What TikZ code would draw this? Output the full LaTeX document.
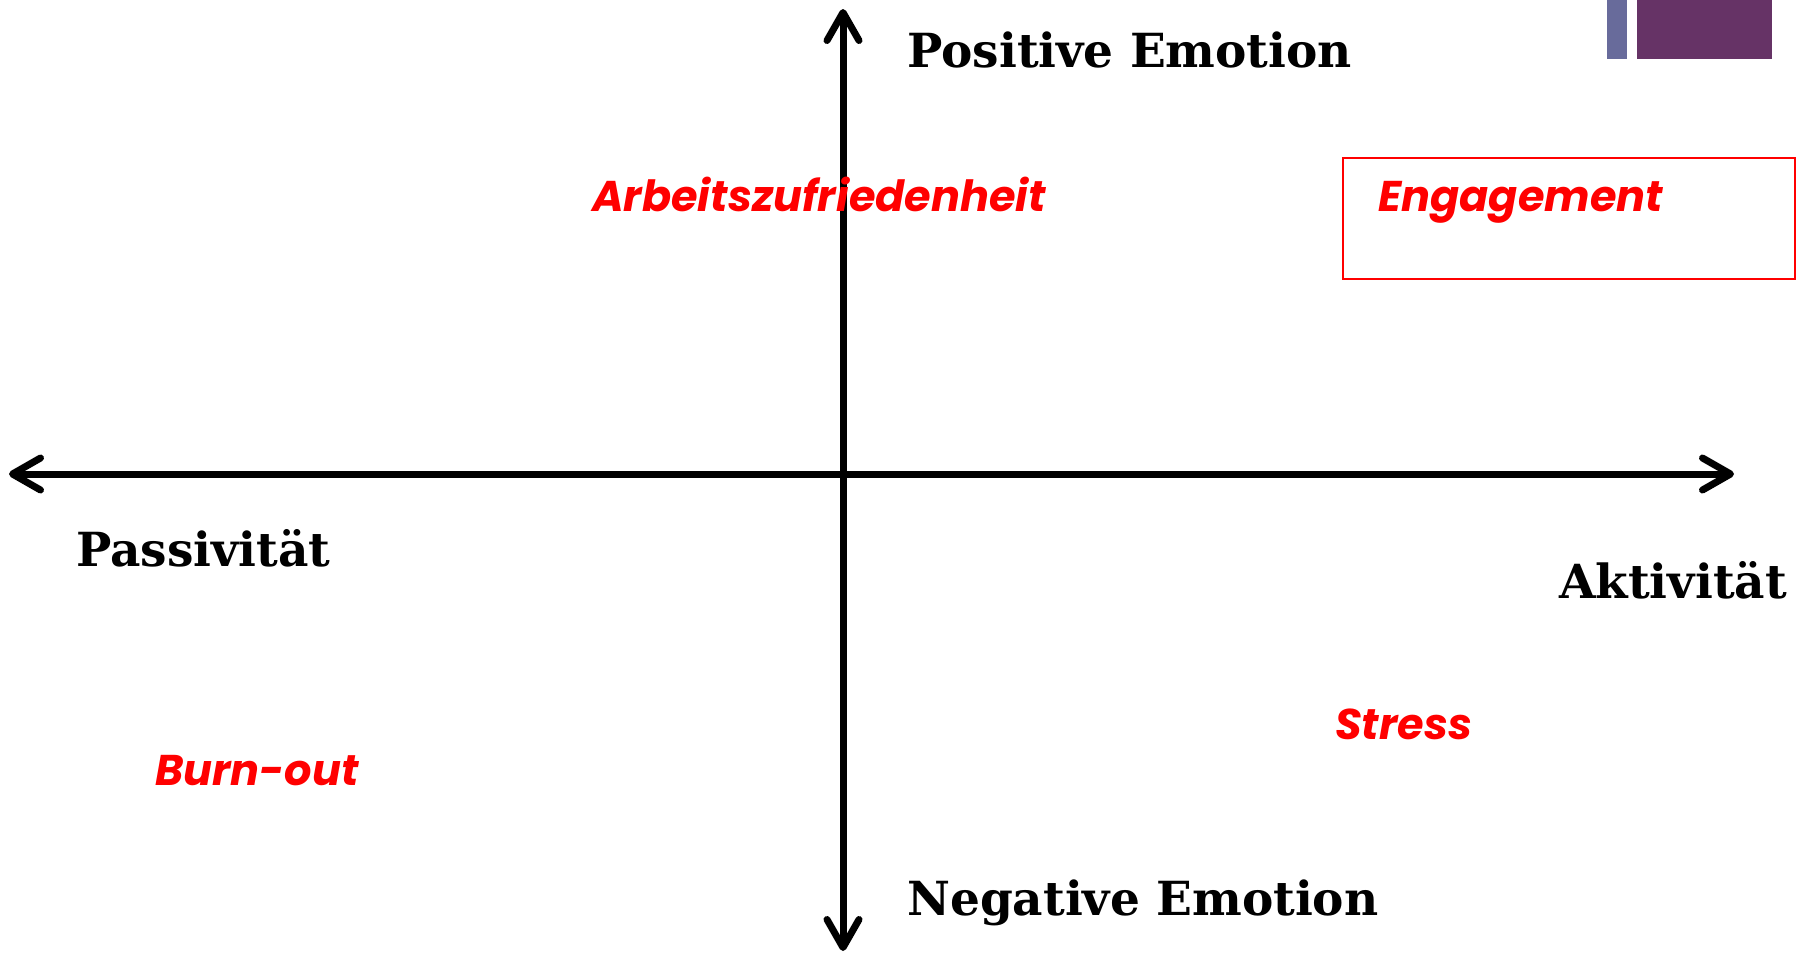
\documentclass[tikz,border=0pt]{standalone}
\usepackage{fontspec}
\setmainfont{DejaVu Serif}
\newfontfamily\quadfont{Poppins}
\usepackage{xcolor}
\definecolor{cRed}{HTML}{FF0000}
\definecolor{cPurple}{HTML}{663366}
\definecolor{cSlate}{HTML}{686B9B}
\usetikzlibrary{arrows.meta}
\tikzset{
  axis-line/.style={line width=7pt,draw=black,
    {Straight Barb[length=28pt,width=32pt,round]}-{Straight Barb[length=28pt,width=32pt,round]}},
  axis-label/.style={font=\fontsize{47}{52}\selectfont\bfseries,anchor=base west,inner sep=0pt},
  quad-label/.style={font=\quadfont\fontsize{43}{48}\selectfont\bfseries\itshape,
    text=cRed,anchor=base west,inner sep=0pt},
  quad-box/.style={draw=cRed,line width=2pt,anchor=north west,inner sep=0pt},
}

\begin{document}
\begin{tikzpicture}[x=1pt,y=-1pt]
  \useasboundingbox (0,0) rectangle (1801,954);
  % Ecke oben rechts
  \fill[cSlate]  (1607,0) rectangle (1627,59);
  \fill[cPurple] (1637,0) rectangle (1772,59);
  % Achsen
  \coordinate (left)   at (9,474);
  \coordinate (right)  at (1734,474);
  \coordinate (top)    at (843,9);
  \coordinate (bottom) at (843,951);
  \draw[axis-line] (left) -- (right);
  \draw[axis-line] (top) -- (bottom);
  \node[axis-label] (pos)  at (907,67)   {Positive Emotion};
  \node[axis-label] (neg)  at (907,915)  {Negative Emotion};
  \node[axis-label] (pas)  at (76,566)   {Passivität};
  \node[axis-label] (akt)  at (1559,598) {Aktivität};
  % Quadranten
  \node[quad-box,minimum width=452pt,minimum height=121pt] (engbox) at (1342,157) {};
  \node[quad-label] (arb)    at (592,211)  {Arbeitszufriedenheit};
  \node[quad-label] (eng)    at (1378,211) {Engagement};
  \node[quad-label] (stress) at (1335,739) {Stress};
  \node[quad-label] (burn)   at (155,785)  {Burn-out};
\end{tikzpicture}
\end{document}
